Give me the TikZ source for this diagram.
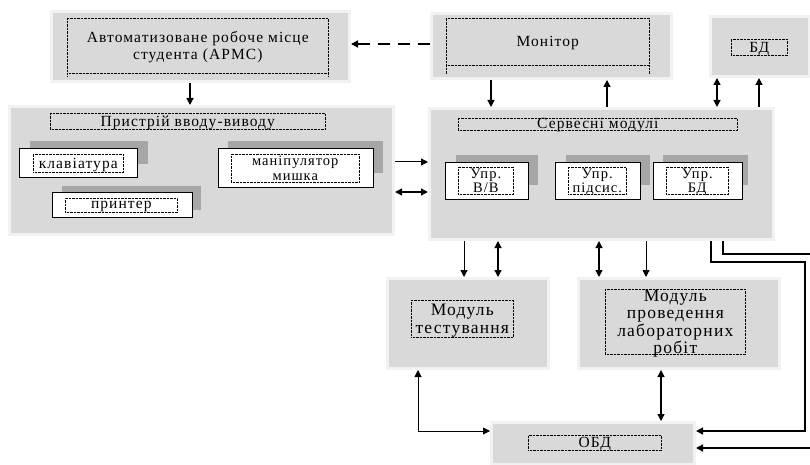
\documentclass[tikz,border=0pt]{standalone}
\usepackage{fontspec}
\setmainfont{Liberation Serif}[LetterSpace=7]
\usetikzlibrary{arrows.meta}
\definecolor{panelfill}{HTML}{D9D9D9}
\definecolor{panelrim}{HTML}{F2F2F2}
\definecolor{panelshadow}{HTML}{A9B3C6}
\definecolor{boxshadow}{HTML}{A6A6A6}
\tikzset{
  panel/.style={fill=panelfill, draw=panelrim, line width=3pt, inner sep=0pt, anchor=north west},
  wbox/.style={fill=white, draw=black, line width=1.2pt, inner sep=0pt, anchor=north west},
  dotbox/.style={draw=black, line width=0.6pt, dash pattern=on 0.7pt off 0.7pt, inner sep=0pt, anchor=north west, align=center, text depth=0pt},
  conn/.style={line width=1.3pt, -{Triangle[length=7pt,width=7pt]}},
  dbl/.style={line width=1.3pt, {Triangle[length=7pt,width=7pt]}-{Triangle[length=7pt,width=7pt]}},
  fa/.style={font=\fontsize{15.5}{17}\selectfont},
  fb/.style={font=\fontsize{14.5}{14.5}\selectfont},
  fc/.style={font=\fontsize{17.5}{17.5}\selectfont},
}
\newcommand\mkpanel[5]{%
  \fill[panelshadow] (#2+3,#3+3) rectangle (#4+3,#5+3);
  \node[panel, minimum width={#4-#2}, minimum height={#5-#3}] (#1) at (#2,#3) {};
}
\newcommand\mkwbox[5]{%
  \node[wbox, minimum width={#4-#2}, minimum height={#5-#3}] (#1) at (#2,#3) {};
}
\begin{document}
\begin{tikzpicture}[x=1pt,y=-1pt]
\useasboundingbox (0,0) rectangle (810,465);
% guide coordinates
\coordinate (gx190) at (190,0);
\coordinate (gx491) at (491,0);
\coordinate (gx607) at (607,0);
\coordinate (gx717) at (717,0);
\coordinate (gx759) at (759,0);
\coordinate (gx464) at (464,0);
\coordinate (gx498) at (498,0);
\coordinate (gx599) at (599,0);
\coordinate (gx646) at (646,0);
\coordinate (gx418) at (418,0);
\coordinate (gx661) at (661,0);
\coordinate (gx711) at (711,0);
\coordinate (gx723) at (723,0);
\coordinate (gx805) at (805,0);
\coordinate (gx820) at (820,0);
\coordinate (gy44) at (0,44);
\coordinate (gy162) at (0,162);
\coordinate (gy192) at (0,192);
\coordinate (gy254) at (0,254);
\coordinate (gy262) at (0,262);
\coordinate (gy431) at (0,431);
\coordinate (gy448) at (0,448);

% panels
\mkpanel{arms}{50}{10}{348}{80}
\mkpanel{monitor}{430}{12}{670}{77}
\mkpanel{bd}{709}{15}{808}{75}
\mkpanel{io}{8}{105}{392}{233}
\mkpanel{server}{428}{107}{772}{238}
\mkpanel{modtest}{386}{277}{547}{367}
\mkpanel{modlab}{577}{277}{778}{367}
\mkpanel{obd}{490}{421}{693}{463}

% inner labels of panels
\node[dotbox, fa, minimum width=261, minimum height=55] (armsT) at (67,18)
  {Автоматизоване робоче місце\\студента (АРМС)};
\draw[dotbox] (67,73) -- (67,76) (328,73) -- (328,76);
\node[dotbox, fa, minimum width=203, minimum height=47] (monT) at (446,18) {Монітор};
\draw[dotbox] (446,65) -- (446,74) (649,65) -- (649,74);
\node[dotbox, fa, minimum width=56, minimum height=16] (bdT) at (731,39) {БД};
\node[dotbox, fa, minimum width=275, minimum height=16] (ioT) at (50,113) {Пристрій вводу-виводу};
\node[dotbox, fa, minimum width=279, minimum height=12, text height=8pt] (servT) at (458,118) {Сервесні модулі};
\node[dotbox, fc, minimum width=102, minimum height=37] (mtT) at (411,300) {Модуль\\тестування};
\node[dotbox, fc, minimum width=140, minimum height=65] (mlT) at (605,289)
  {Модуль\\проведення\\лабораторних\\робіт};
\node[dotbox, fa, minimum width=133, minimum height=15] (obdT) at (528,435) {ОБД};

% device boxes in io
\fill[boxshadow] (30,141) rectangle (148,164);
\mkwbox{kbd}{19}{148}{137}{177}
\node[dotbox, fa, minimum width=90, minimum height=18] (kbdT) at (33,154) {клавіатура};
\fill[boxshadow] (62,186) rectangle (201,210);
\mkwbox{prn}{52}{192}{192}{217}
\node[dotbox, fa, minimum width=112, minimum height=14] (prnT) at (65,198) {принтер};
\fill[boxshadow] (228,141) rectangle (383,173);
\mkwbox{mouse}{218}{148}{373}{187}
\node[dotbox, fb, minimum width=128, minimum height=28] (mouseT) at (231,154) {маніпулятор\\мишка};

% sub boxes in server
\fill[boxshadow] (456,155) rectangle (538,185);
\mkwbox{ubb}{445}{162}{528}{199}
\node[dotbox, fb, minimum width=55, minimum height=27] (ubbT) at (458,167) {Упр.\\В/В};
\fill[boxshadow] (566,155) rectangle (650,185);
\mkwbox{ups}{555}{162}{640}{199}
\node[dotbox, fb, minimum width=58, minimum height=27] (upsT) at (568,167) {Упр.\\підсис.};
\fill[boxshadow] (663,155) rectangle (748,185);
\mkwbox{ubd}{653}{162}{742}{199}
\node[dotbox, fb, minimum width=62, minimum height=27] (ubdT) at (666,167) {Упр.\\БД};

% connectors
\draw[conn] (arms.south -| gx190) -- (io.north -| gx190);
\draw[conn, dash pattern=on 12pt off 8pt] (monitor.west |- gy44) -- (arms.east |- gy44);
\draw[conn] (monitor.south -| gx491) -- (server.north -| gx491);
\draw[conn] (server.north -| gx607) -- (monitor.south -| gx607);
\draw[dbl] (bd.south -| gx717) -- (server.north -| gx717);
\draw[conn] (server.north -| gx759) -- (bd.south -| gx759);
\draw[conn, line width=1pt] (io.east |- gy162) -- (server.west |- gy162);
\draw[dbl] (io.east |- gy192) -- (server.west |- gy192);
\draw[conn, line width=1pt] (server.south -| gx464) -- (modtest.north -| gx464);
\draw[dbl] (server.south -| gx498) -- (modtest.north -| gx498);
\draw[dbl] (server.south -| gx599) -- (modlab.north -| gx599);
\draw[conn, line width=1pt] (server.south -| gx646) -- (modlab.north -| gx646);
\draw[dbl, line width=1pt] (modtest.south -| gx418) |- (obd.west |- gy431);
\draw[dbl] (modlab.south -| gx661) -- (obd.north -| gx661);
\draw[conn] (server.south -| gx711) |- (gx805 |- gy262) |- (obd.east |- gy431);
\draw[conn] (server.south -| gx723) |- (gx820 |- gy254) |- (obd.east |- gy448);
\end{tikzpicture}
\end{document}
